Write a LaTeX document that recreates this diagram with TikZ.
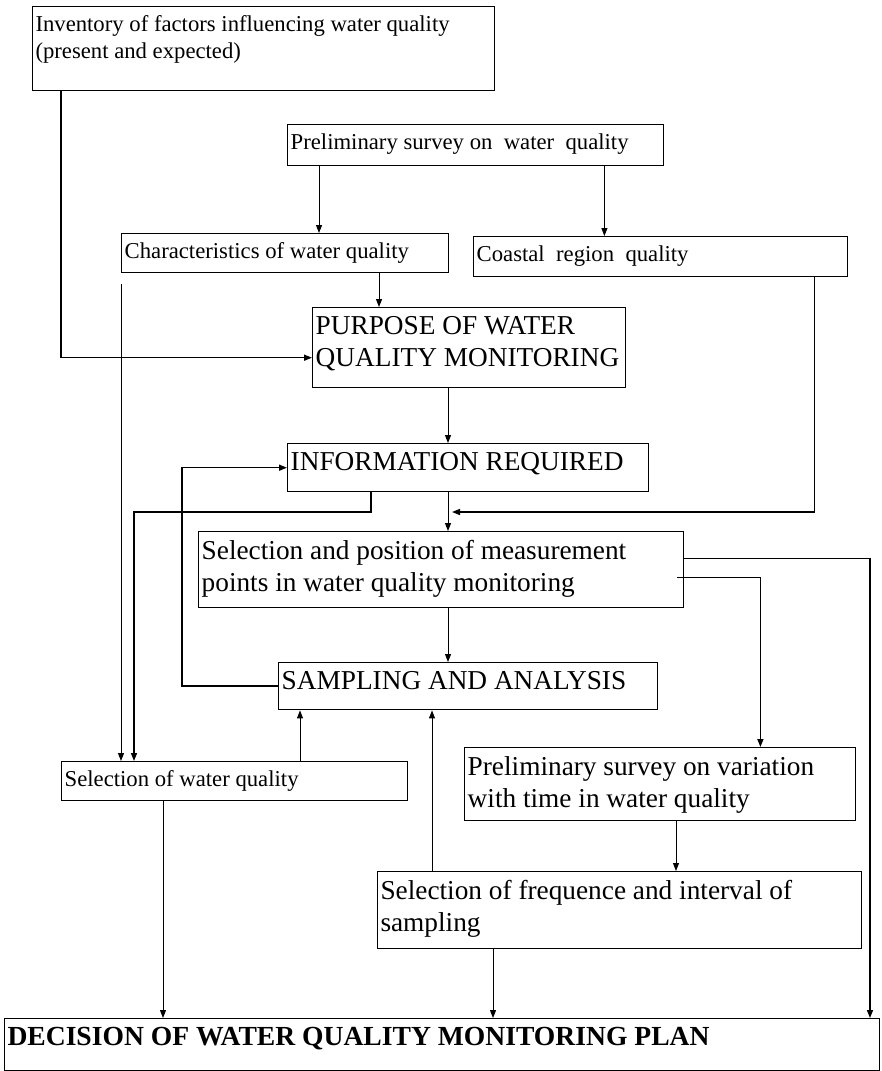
\documentclass[tikz,border=0pt]{standalone}
\usepackage{fontspec}
\setmainfont{Liberation Serif}
\usetikzlibrary{arrows.meta}

\newcommand{\wqbig}{\fontsize{27.3}{32}\selectfont}
\newcommand{\wqsmall}{\fontsize{22.7}{27}\selectfont}
\newcommand{\boxtext}[3]{\parbox[t][#2pt][t]{#1pt}{\raggedright #3}}

\tikzset{
  wq/.style={draw, line width=1.4pt, inner xsep=3pt, inner ysep=9pt, anchor=north west},
  wqb/.style={wq, font=\wqbig},
  wqs/.style={wq, font=\wqsmall},
  arr/.style={line width=1pt, -{Triangle[length=8pt,width=6pt]}},
}

\begin{document}
\begin{tikzpicture}[x=1pt,y=1pt]
  \useasboundingbox (0,0) rectangle (881,-1071);

  \node[wqs, line width=1pt] (inv) at (32,-6)
    {\boxtext{456}{66}{Inventory of factors influencing water quality\\(present and expected)}};
  \node[wqs] (pre) at (287,-124) {\boxtext{370}{23}{Preliminary survey on\ \ water\ \ quality}};
  \node[wqs] (char) at (121,-233) {\boxtext{321}{21}{Characteristics of water quality}};
  \node[wqs] (coast) at (473,-236) {\boxtext{368}{22}{Coastal\ \ region\ \ quality}};
  \node[wqb] (purp) at (312,-307) {\boxtext{307}{62}{PURPOSE OF WATER\\QUALITY MONITORING}};
  \node[wqb] (info) at (287,-443) {\boxtext{355}{30}{INFORMATION REQUIRED}};
  \node[wqb] (sel) at (198,-531)
    {\boxtext{479}{58}{Selection and position of measurement\\points in water quality monitoring}};
  \node[wqb] (samp) at (278,-662) {\boxtext{373}{29}{SAMPLING AND ANALYSIS}};
  \node[wqs] (wqsel) at (61,-761) {\boxtext{340}{21}{Selection of water quality}};
  \node[wqb] (var) at (464,-747)
    {\boxtext{385}{55}{Preliminary survey on variation\\with time in water quality}};
  \node[wqb, line width=1pt] (freq) at (377,-871)
    {\boxtext{478}{59}{Selection of frequence and interval of\\sampling}};
  \node[wqb, line width=1pt] (dec) at (4,-1018)
    {\boxtext{869}{34}{\fontsize{27.6}{32}\selectfont\bfseries DECISION OF WATER QUALITY MONITORING PLAN}};

  % main line down the middle
  \coordinate (spine) at (448,0);
  \coordinate (bend) at (134,-512);
  \draw[arr] (purp.south -| spine) -- (info.north -| spine);
  \draw[arr] (info.south -| spine) -- (sel.north -| spine);
  \draw[arr] (sel.south -| spine) -- (samp.north -| spine);

  \draw[arr] ([xshift=32pt]pre.south west) -- ([xshift=32pt]pre.south west |- char.north);
  \draw[arr] ([xshift=-60pt]pre.south east) -- ([xshift=-60pt]pre.south east |- coast.north);
  \draw[arr] ([xshift=258pt]char.south west) -- ([xshift=258pt]char.south west |- purp.north);
  \draw[arr, line width=1.5pt] ([xshift=29pt]inv.south west) |- ([yshift=-10pt]purp.west);
  \draw[arr] ([yshift=-11pt]char.south west) -- (char.south west |- wqsel.north);
  \draw[arr, line width=1.5pt] ([xshift=84pt]info.south west) |- (bend) -- (bend |- wqsel.north);
  \draw[arr, line width=1.5pt] ([xshift=-34pt]coast.south east) |- ([xshift=4pt]spine |- bend);

  % feedback to the information box
  \draw[arr, line width=1.5pt] (samp.west) -| ([xshift=-105pt]info.west) -- (info.west);
  \draw[arr] ([xshift=239pt]wqsel.north west) -- ([xshift=239pt]wqsel.north west |- samp.south);
  \draw[arr] ([xshift=55pt]freq.north west) -- ([xshift=55pt]freq.north west |- samp.south);

  \draw[arr, line width=1.5pt] ([xshift=-7pt,yshift=-8pt]sel.east) -| ([xshift=-96pt]var.north east);
  \draw[arr, line width=1.5pt] ([yshift=11pt]sel.east) -| ([xshift=-10pt]dec.north east);
  \draw[arr] ([xshift=212pt]var.south west) -- ([xshift=212pt]var.south west |- freq.north);

  % into the decision
  \draw[arr] ([xshift=102pt]wqsel.south west) -- ([xshift=102pt]wqsel.south west |- dec.north);
  \draw[arr] ([xshift=116pt]freq.south west) -- ([xshift=116pt]freq.south west |- dec.north);
\end{tikzpicture}
\end{document}
